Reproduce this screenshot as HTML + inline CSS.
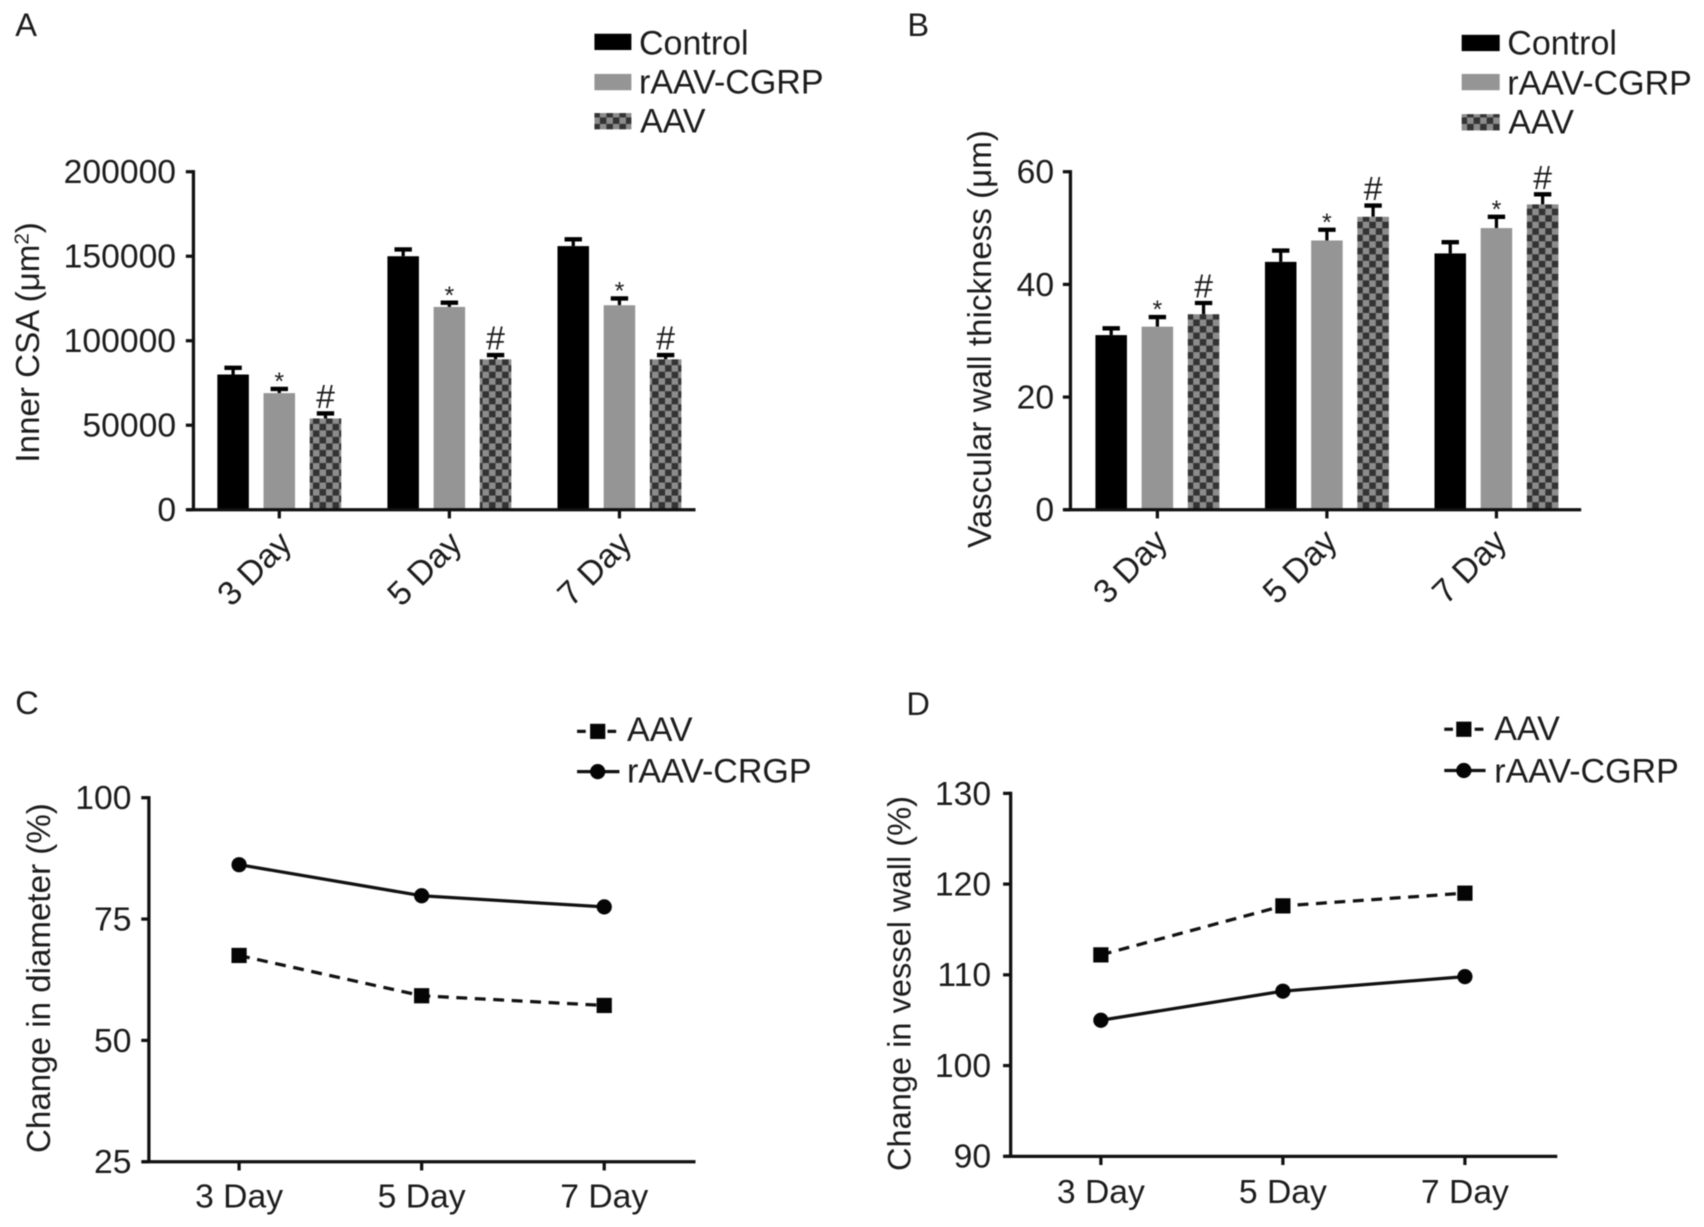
<!DOCTYPE html>
<html lang="en">
<head>
<meta charset="utf-8">
<title>Inner CSA, vascular wall thickness and percentage change charts</title>
<style>
  html, body { margin: 0; padding: 0; background: #fff; }
  body { width: 1704px; height: 1227px; overflow: hidden; }
  svg { display: block; }
  text { font-family: "Liberation Sans", sans-serif; font-size: 31px; fill: #1c1c1c; }
  .legend-text { font-size: 31.3px; }
</style>
</head>
<body>
<svg id="figure" xmlns="http://www.w3.org/2000/svg" width="1704" height="1227" viewBox="0 0 1568 1129">
  <defs>
    <pattern id="check" patternUnits="userSpaceOnUse" width="12" height="12">
      <rect width="12" height="12" fill="#8c8c8c"/>
      <rect width="6" height="6" fill="#333"/>
      <rect x="6" y="6" width="6" height="6" fill="#333"/>
    </pattern>
    <filter id="soft" x="0" y="0" width="100%" height="100%" filterUnits="objectBoundingBox" color-interpolation-filters="sRGB">
      <feGaussianBlur stdDeviation="0.6"/>
    </filter>
  </defs>
  <rect width="1568" height="1129" fill="#fff"/>
  <g id="root" filter="url(#soft)">
    <g id="panel-a">
      <text x="14" y="33" style="font-size:30px">A</text>
      <text transform="translate(36,315) rotate(-90)" text-anchor="middle" style="font-size:30.5px">Inner CSA (μm<tspan dy="-10" style="font-size:19px">2</tspan><tspan dy="10">)</tspan></text>
      <g>
        <rect x="547" y="31" width="34" height="15" fill="#000"/>
        <text class="legend-text" x="588" y="50">Control</text>
        <rect x="547" y="68" width="34" height="15" fill="#959595"/>
        <text class="legend-text" x="588" y="86">rAAV-CGRP</text>
        <rect x="547" y="104" width="34" height="15" fill="url(#check)"/>
        <text class="legend-text" x="589" y="122">AAV</text>
      </g>
    </g>
    <g id="panel-b">
      <text x="835" y="33" style="font-size:30px">B</text>
      <text transform="translate(912,312) rotate(-90)" text-anchor="middle" style="font-size:30.5px">Vascular wall thickness (μm)</text>
      <g>
        <rect x="1345" y="32" width="35" height="15" fill="#000"/>
        <text class="legend-text" x="1387" y="50">Control</text>
        <rect x="1345" y="68" width="35" height="15" fill="#959595"/>
        <text class="legend-text" x="1387" y="87">rAAV-CGRP</text>
        <rect x="1345" y="105" width="35" height="15" fill="url(#check)"/>
        <text class="legend-text" x="1388" y="123">AAV</text>
      </g>
    </g>
    <g id="panel-c">
      <text x="14" y="657" style="font-size:30px">C</text>
      <text transform="translate(46,900) rotate(-90)" text-anchor="middle" style="font-size:30.5px">Change in diameter (%)</text>
      <g>
        <line x1="531" y1="673" x2="570" y2="673" stroke="#111" stroke-width="3" stroke-dasharray="8 6"/>
        <rect x="543" y="666" width="14" height="14" fill="#050505"/>
        <text class="legend-text" x="577" y="682">AAV</text>
        <line x1="531" y1="710" x2="570" y2="710" stroke="#111" stroke-width="3"/>
        <circle cx="550" cy="710" r="7" fill="#050505"/>
        <text class="legend-text" x="577" y="720">rAAV-CRGP</text>
      </g>
    </g>
    <g id="panel-d">
      <text x="834" y="658" style="font-size:30px">D</text>
      <text transform="translate(838,905) rotate(-90)" text-anchor="middle" style="font-size:30px">Change in vessel wall (%)</text>
      <g>
        <line x1="1329" y1="671" x2="1367" y2="671" stroke="#111" stroke-width="3" stroke-dasharray="8 6"/>
        <rect x="1340" y="664" width="14" height="14" fill="#050505"/>
        <text class="legend-text" x="1375" y="681">AAV</text>
        <line x1="1329" y1="709" x2="1367" y2="709" stroke="#111" stroke-width="3"/>
        <circle cx="1347" cy="709" r="7" fill="#050505"/>
        <text class="legend-text" x="1375" y="720">rAAV-CGRP</text>
      </g>
    </g>
  </g>
</svg>
<script>
// ---- Data ----
const dayLabels = ["3 Day", "5 Day", "7 Day"];

const csaTicks = [0, 50000, 100000, 150000, 200000];
const csaControl = [80000, 150000, 156000];
const csaControlErr = [4000, 4000, 4000];
const csaCgrp = [69000, 120000, 121000];
const csaCgrpErr = [2500, 2500, 4000];
const csaAav = [54000, 89000, 89000];
const csaAavErr = [3000, 2500, 2500];

const wallTicks = [0, 20, 40, 60];
const wallControl = [31, 44, 45.5];
const wallControlErr = [1.2, 2, 2];
const wallCgrp = [32.5, 47.8, 50];
const wallCgrpErr = [1.7, 1.9, 2];
const wallAav = [34.7, 52, 54.2];
const wallAavErr = [2, 2, 1.8];

const diameterTicks = [25, 50, 75, 100];
const diameterAav = [67.5, 59.2, 57.2];
const diameterCgrp = [86.2, 79.8, 77.5];

const vesselTicks = [90, 100, 110, 120, 130];
const vesselAav = [112.2, 117.6, 119];
const vesselCgrp = [105, 108.2, 109.8];

// ---- Helpers ----
const NS = "http://www.w3.org/2000/svg";
function make(parent, tag, attrs, content) {
  const node = document.createElementNS(NS, tag);
  for (const key in attrs) node.setAttribute(key, attrs[key]);
  if (content !== undefined) node.textContent = content;
  parent.appendChild(node);
  return node;
}
function linearScale(d0, d1, r0, r1) {
  return function (v) { return r0 + (v - d0) * (r1 - r0) / (d1 - d0); };
}

function drawYAxis(parent, scale, ticks, axisX, labelX) {
  const top = scale(ticks[ticks.length - 1]);
  const bottom = scale(ticks[0]);
  const axis = make(parent, "line", { x1: axisX, y1: top - 1.5, x2: axisX, y2: bottom, stroke: "#111", "stroke-width": 3 });
  
  
  ticks.forEach(function (t) {
    const y = scale(t);
    const tick = make(parent, "line", { x1: axisX - 7, y1: y, x2: axisX, y2: y, stroke: "#111", "stroke-width": 3 });
    
    
    const label = make(parent, "text", { x: labelX, y: y + 10.5, "text-anchor": "end" }, String(t));
    
    
  });
}

function drawXAxis(parent, y, x0, x1, tickXs) {
  const axis = make(parent, "line", { x1: x0, y1: y, x2: x1, y2: y, stroke: "#111", "stroke-width": 3 });
  
  
  tickXs.forEach(function (x) {
    const tick = make(parent, "line", { x1: x, y1: y, x2: x, y2: y + 8, stroke: "#111", "stroke-width": 3 });
    
    
  });
}

function drawBarPanel(parent, opts) {
  const y = linearScale(opts.ticks[0], opts.ticks[opts.ticks.length - 1], opts.base, opts.top);
  const tickXs = dayLabels.map(function (_, i) { return opts.firstTick + i * opts.groupStep; });
  const fills = ["#000", "#959595", "url(#check)"];
  opts.series.forEach(function (values, s) {
    values.forEach(function (v, i) {
      const cx = tickXs[i] + (s - 1) * opts.barStep;
      const barTop = y(v);
      const capY = y(v + opts.errors[s][i]);
      const stem = make(parent, "line", { x1: cx, y1: capY, x2: cx, y2: barTop, stroke: "#000", "stroke-width": 3 });
      
      
      const cap = make(parent, "line", { x1: cx - 8, y1: capY, x2: cx + 8, y2: capY, stroke: "#000", "stroke-width": 4 });
      
      
      const bar = make(parent, "rect", { x: cx - 14.5, y: barTop, width: 29, height: opts.base - barTop, fill: fills[s] });
      
      
      if (s === 1) {
        const star = make(parent, "text", { x: cx, y: capY + 1, "text-anchor": "middle", style: "font-size:23px" }, "*");
        
        
      }
      if (s === 2) {
        const hash = make(parent, "text", { x: cx, y: capY - 5, "text-anchor": "middle" }, "#");
        
        
      }
    });
  });
  drawYAxis(parent, y, opts.ticks, opts.axisX, opts.labelX);
  drawXAxis(parent, opts.base, opts.axisX - 6, opts.axisEnd, tickXs);
  tickXs.forEach(function (x, i) {
    const label = make(parent, "text", { transform: "translate(" + (x + opts.labelDx) + "," + (opts.base + opts.labelDy) + ") rotate(-45)", "text-anchor": "end" }, dayLabels[i]);
    
    
  });
}

function drawLinePanel(parent, opts) {
  const y = linearScale(opts.ticks[0], opts.ticks[opts.ticks.length - 1], opts.base, opts.top);
  const xs = dayLabels.map(function (_, i) { return opts.firstX + i * opts.step; });
  function pathFor(values) {
    return values.map(function (v, i) { return (i ? "L" : "M") + xs[i] + " " + y(v); }).join(" ");
  }
  const dashed = make(parent, "path", { d: pathFor(opts.aav), fill: "none", stroke: "#111", "stroke-width": 3, "stroke-dasharray": "10 7" });
  
  
  const solid = make(parent, "path", { d: pathFor(opts.cgrp), fill: "none", stroke: "#111", "stroke-width": 3 });
  
  
  opts.aav.forEach(function (v, i) {
    const pt = make(parent, "rect", { x: xs[i] - 7, y: y(v) - 7, width: 14, height: 14, fill: "#050505" });
    
    
  });
  opts.cgrp.forEach(function (v, i) {
    const pt = make(parent, "circle", { cx: xs[i], cy: y(v), r: 7, fill: "#050505" });
    
    
  });
  drawYAxis(parent, y, opts.ticks, opts.axisX, opts.labelX);
  drawXAxis(parent, opts.base, opts.axisX - 6, opts.axisEnd, xs);
  xs.forEach(function (x, i) {
    const label = make(parent, "text", { x: x, y: opts.labelBase, "text-anchor": "middle" }, dayLabels[i]);
    
    
  });
}

// ---- Draw panels ----
drawBarPanel(document.getElementById("panel-a"), {
  ticks: csaTicks,
  series: [csaControl, csaCgrp, csaAav],
  errors: [csaControlErr, csaCgrpErr, csaAavErr],
  base: 469, top: 158, axisX: 178, axisEnd: 640, labelX: 162,
  firstTick: 257, groupStep: 156.5, barStep: 42.5, labelDx: 13, labelDy: 33
});
drawBarPanel(document.getElementById("panel-b"), {
  ticks: wallTicks,
  series: [wallControl, wallCgrp, wallAav],
  errors: [wallControlErr, wallCgrpErr, wallAavErr],
  base: 469, top: 158, axisX: 985, axisEnd: 1455, labelX: 970,
  firstTick: 1065, groupStep: 156, barStep: 42.5, labelDx: 11, labelDy: 31
});
drawLinePanel(document.getElementById("panel-c"), {
  ticks: diameterTicks, aav: diameterAav, cgrp: diameterCgrp,
  base: 1069, top: 734, axisX: 137, axisEnd: 640, labelX: 121,
  firstX: 220, step: 168, labelBase: 1111
});
drawLinePanel(document.getElementById("panel-d"), {
  ticks: vesselTicks, aav: vesselAav, cgrp: vesselCgrp,
  base: 1064, top: 730, axisX: 930, axisEnd: 1433, labelX: 912,
  firstX: 1013, step: 167.5, labelBase: 1107
});
</script>
</body>
</html>
